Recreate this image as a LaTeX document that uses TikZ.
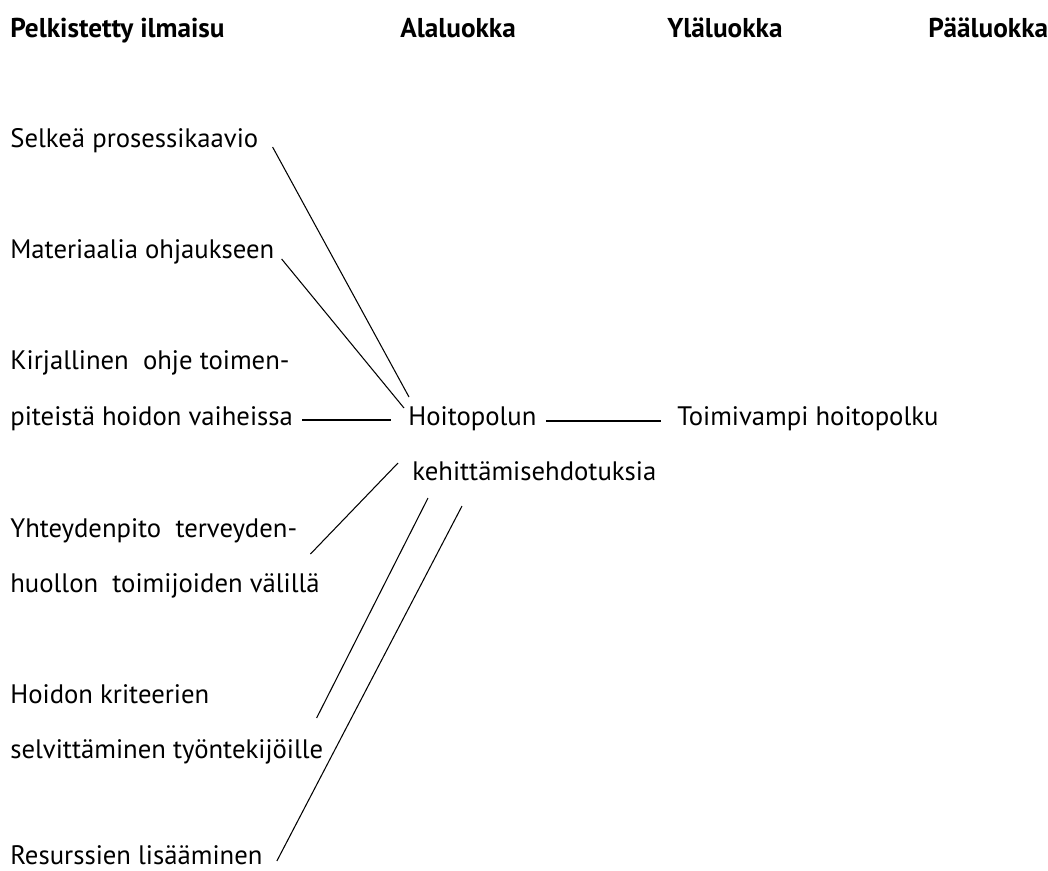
\documentclass[tikz,border=0pt]{standalone}
\usepackage{fontspec}
\setmainfont{PT Sans}
\usepackage{tikz}
\usetikzlibrary{positioning}

\begin{document}
\begin{tikzpicture}[
    x=0.02cm, y=-0.02cm,
    txt/.style={anchor=base west, inner sep=0pt, font=\fontsize{15.2}{18}\selectfont},
    head/.style={txt, font=\fontsize{15.5}{18}\selectfont\bfseries},
    link/.style={line width=0.6pt, black}
]
\useasboundingbox (0,0) rectangle (1048,870);
% column headings
\node[head] (hpel) at (10,37)  {Pelkistetty ilmaisu};
\node[head] (hala) at (400,37) {Alaluokka};
\node[head] (hyla) at (667,37) {Yläluokka};
\node[head] (hpaa) at (928,37) {Pääluokka};
% reduced expressions
\node[txt] (sel)  at (10,147) {Selkeä prosessikaavio};
\node[txt] (mat)  at (10,258) {Materiaalia ohjaukseen};
\node[txt] (kir1) at (10,369) {Kirjallinen\ \ ohje toimen-};
\node[txt] (kir2) at (10,425) {piteistä hoidon\ vaiheissa};
\node[txt] (yht1) at (10,537) {Yhteydenpito\ \ terveyden-};
\node[txt] (yht2) at (10,592) {huollon\ \ toimijoiden välillä};
\node[txt] (hk1)  at (10,703) {Hoidon kriteerien};
\node[txt] (hk2)  at (10,758) {selvittäminen\ työntekijöille};
\node[txt] (res)  at (10,864) {Resurssien lisääminen};
% sub class and upper class
\node[txt] (hp)   at (408,425) {Hoitopolun};
\node[txt] (keh)  at (412,480) {kehittämisehdotuksia};
\node[txt] (toim) at (677,425) {Toimivampi hoitopolku};
% connectors
\draw[link] ([shift={(14,0)}]sel.base east) -- ([shift={(1,-28)}]hp.base west);
\draw[link] ([shift={(7,1)}]mat.base east) -- ([shift={(-4,-17)}]hp.base west);
\draw[link] ([shift={(9,-5)}]kir2.base east) -- ([shift={(-17,-5)}]hp.base west);
\draw[link] ([shift={(9,-4)}]hp.base east) -- ([shift={(-16,-4)}]toim.base west);
\draw[link] ([shift={(13,17)}]yht1.base east) -- ([shift={(-14,-17)}]keh.base west);
\draw[link] ([shift={(-7,-40)}]hk2.base east) -- ([shift={(16,18)}]keh.base west);
\draw[link] ([shift={(14,-3)}]res.base east) -- ([shift={(50,26)}]keh.base west);
\end{tikzpicture}
\end{document}
